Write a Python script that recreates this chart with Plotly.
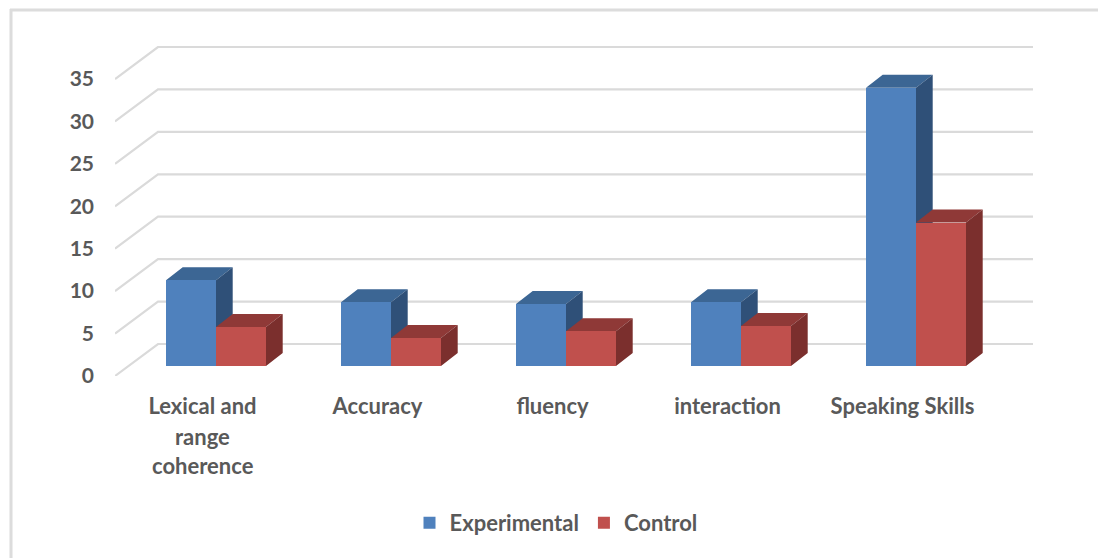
import plotly.graph_objects as go

categories = ["Lexical and<br>range<br>coherence", "Accuracy", "fluency", "interaction", "Speaking Skills"]
experimental = [10.1, 7.5, 7.3, 7.5, 32.8]
control = [4.6, 3.3, 4.1, 4.7, 16.9]
y_ticks = [0, 5, 10, 15, 20, 25, 30, 35]

W, H = 1098, 558
L, R, T, B = 115, 1033, 46, 376
PX_X = 175.0
PX_Y = 297 / 35.0
xr = [-0.5, -0.5 + (R - L) / PX_X]
yr = [0, (B - T) / PX_Y]

ux = lambda p: p / PX_X
uy = lambda p: p / PX_Y

wall_dx, wall_dy = ux(43), uy(32)
bar_sx, bar_sy = ux(13.5), uy(10)
dep_x, dep_y = ux(16.7), uy(13)
bw = ux(50)

TXT = "#595959"
FONT = "Lato"

fig = go.Figure()

# gridlines: floor-to-wall diagonal + back wall
gx, gy = [], []
for t in y_ticks:
    gx += [xr[0], xr[0] + wall_dx, xr[1], None]
    gy += [t, t + wall_dy, t + wall_dy, None]
fig.add_trace(go.Scatter(x=gx, y=gy, mode="lines", line=dict(color="#DADADA", width=2.2),
                         showlegend=False, hoverinfo="skip"))


def faces(values, left_shift):
    top_x, top_y, side_x, side_y = [], [], [], []
    for i, v in enumerate(values):
        x0 = i + bar_sx + left_shift
        x1 = x0 + bw
        y0 = bar_sy
        y1 = bar_sy + v
        top_x += [x0, x1, x1 + dep_x, x0 + dep_x, x0, None]
        top_y += [y1, y1, y1 + dep_y, y1 + dep_y, y1, None]
        side_x += [x1, x1 + dep_x, x1 + dep_x, x1, x1, None]
        side_y += [y0, y0 + dep_y, y1 + dep_y, y1, y0, None]
    return top_x, top_y, side_x, side_y


for values, shift, c_top, c_side in [
    (experimental, -bw, "#3C6694", "#2F5078"),
    (control, 0, "#8F3937", "#7B2F2D"),
]:
    tx, ty, sx, sy = faces(values, shift)
    for fx, fy, col in [(tx, ty, c_top), (sx, sy, c_side)]:
        fig.add_trace(go.Scatter(x=fx, y=fy, mode="lines", fill="toself", fillcolor=col,
                                 line=dict(width=0, color=col), showlegend=False, hoverinfo="skip"))

xs = [i + bar_sx for i in range(len(categories))]
names = [c.replace("<br>", " ") for c in categories]
fig.add_trace(go.Bar(x=xs, y=experimental, base=bar_sy, width=bw, offset=-bw, name="Experimental",
                     marker=dict(color="#4F81BD", line=dict(width=0)), xaxis="x2", yaxis="y2",
                     hovertext=names))
fig.add_trace(go.Bar(x=xs, y=control, base=bar_sy, width=bw, offset=0, name="Control",
                     marker=dict(color="#C0504D", line=dict(width=0)), xaxis="x2", yaxis="y2",
                     hovertext=names))

axis_font = dict(family=FONT, size=22, color=TXT, weight="bold")
tick_font = dict(family=FONT, size=21, color=TXT, weight="bold")

first_lines = [c.split("<br>")[0] for c in categories]
annotations = []
for i, c in enumerate(categories):
    for n, line in enumerate(c.split("<br>")[1:], start=1):
        annotations.append(dict(x=i, xref="x", y=0, yref="y", text=line, showarrow=False,
                                yanchor="middle", yshift=-(30 + 30 * n) + (1 if n == 2 else 0),
                                font=axis_font))

frame = dict(color="#DCDCDC", width=3)
px = lambda p: (p - L) / (R - L)
py = lambda p: (B - p) / (B - T)
shapes = [
    dict(type="line", xref="paper", yref="paper", x0=px(11), x1=px(11), y0=py(9), y1=py(H), line=frame),
    dict(type="line", xref="paper", yref="paper", x0=px(10), x1=px(W), y0=py(10), y1=py(10), line=frame),
]

fig.update_layout(
    width=W, height=H, autosize=False,
    margin=dict(l=L, r=W - R, t=T, b=H - B, pad=0),
    paper_bgcolor="white", plot_bgcolor="white",
    barmode="overlay", bargap=0,
    xaxis=dict(range=xr, tickmode="array", tickvals=list(range(len(categories))), ticktext=first_lines,
               showgrid=False, zeroline=False, showline=False, ticks="", ticklabelstandoff=15,
               tickfont=axis_font),
    yaxis=dict(range=yr, tickmode="array", tickvals=y_ticks, showgrid=False, zeroline=False,
               showline=False, ticks="", ticklabelstandoff=20, tickfont=tick_font),
    xaxis2=dict(range=xr, overlaying="x", visible=False),
    yaxis2=dict(range=yr, overlaying="y", visible=False),
    legend=dict(orientation="h", x=px(556), xanchor="center",
                y=py(523), yanchor="middle", font=axis_font, itemclick=False, itemdoubleclick=False,
                bgcolor="rgba(0,0,0,0)"),
    annotations=annotations,
    shapes=shapes,
)

fig.write_html("out.html", config=dict(displayModeBar=False),
               post_script="document.body.style.margin='0';document.documentElement.style.overflow='hidden';")
